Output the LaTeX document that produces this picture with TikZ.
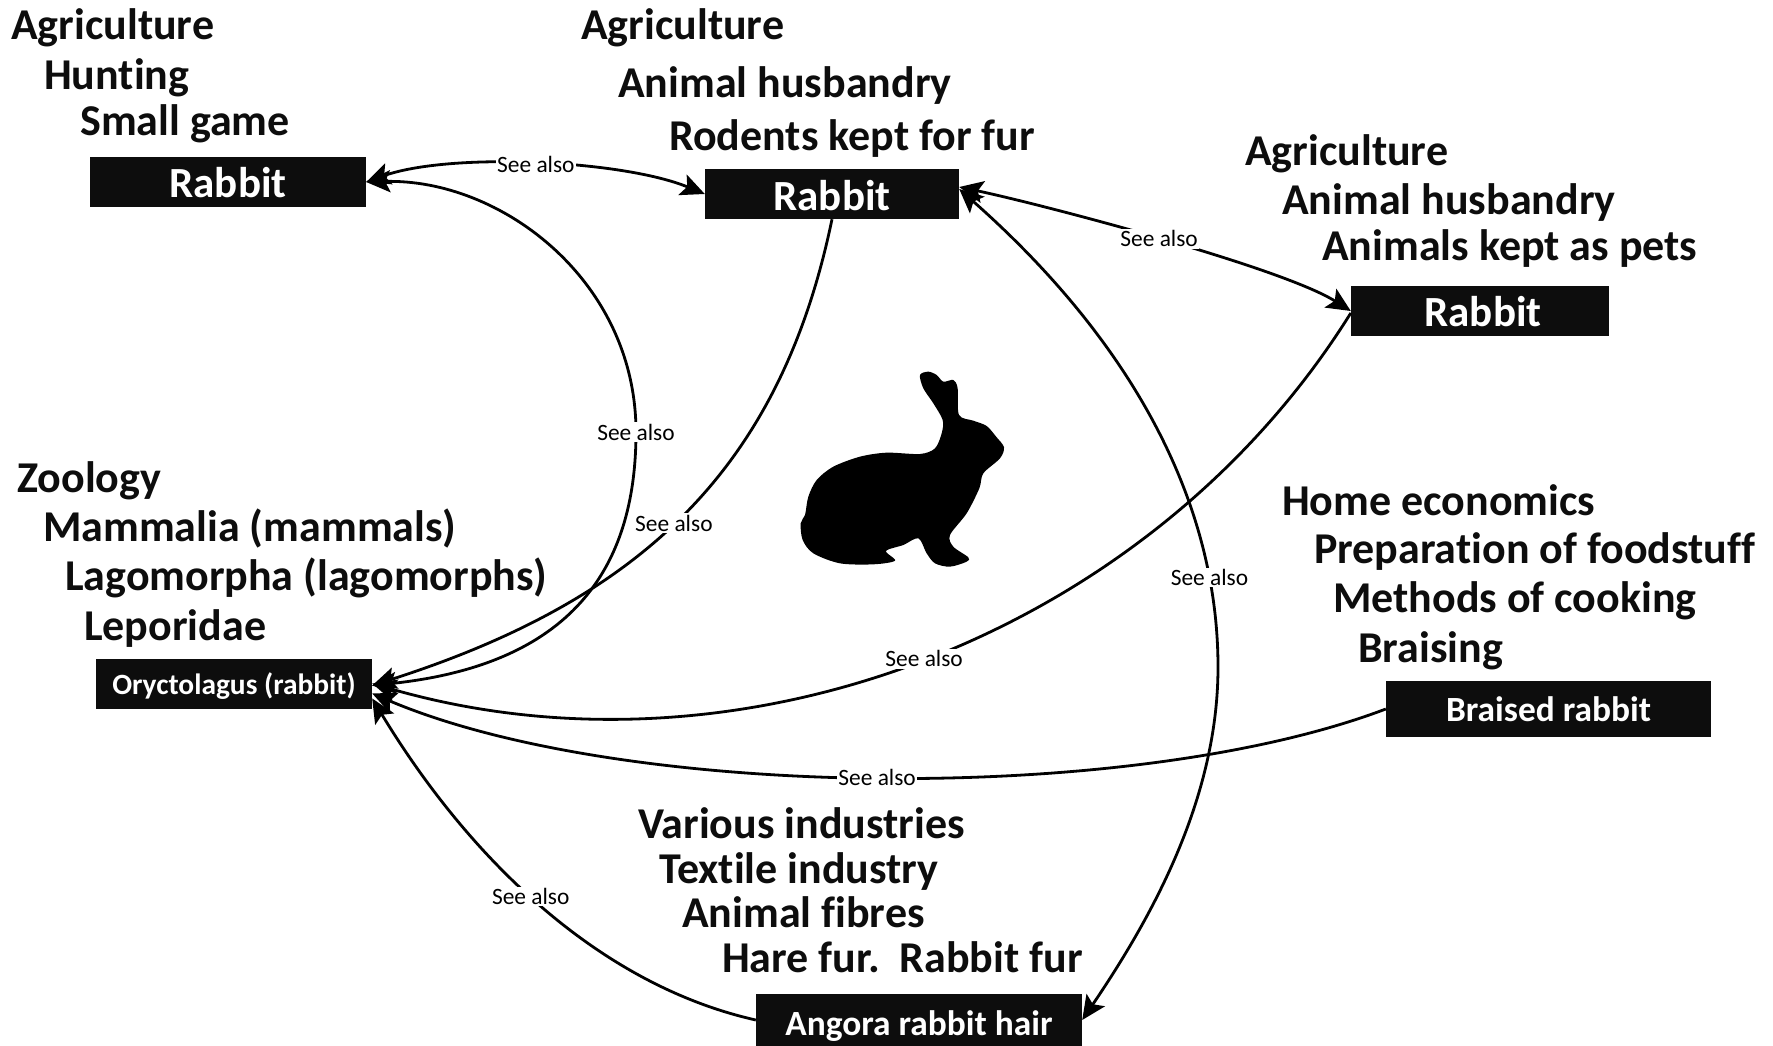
\documentclass[tikz,border=0pt]{standalone}
\usepackage{fontspec}
\setmainfont[Ligatures=CommonOff]{Carlito}
\usetikzlibrary{arrows.meta,calc}
\definecolor{boxblack}{HTML}{0D0D0D}
\tikzset{
  hd/.style={anchor=base west,inner sep=0pt,font=\fontsize{44}{44}\selectfont\bfseries,text=boxblack},
  rbox/.style={fill=boxblack,text=white,inner sep=0pt,text depth=0pt,text height=30pt,font=\fontsize{43}{43}\selectfont\bfseries},
  rboxs/.style={rbox,text height=25pt,font=\fontsize{35.4}{35.4}\selectfont\bfseries},
  link/.style={line width=2.8pt,black},
  tipe/.style={-{Stealth[length=24pt,width=22pt,inset=5pt]}},
  tipb/.style={{Stealth[length=24pt,width=22pt,inset=5pt]}-{Stealth[length=24pt,width=22pt,inset=5pt]}},
  lab/.style={fill=white,inner sep=1.5pt,font=\fontsize{23.4}{23.4}\selectfont,text=black}
}
\begin{document}
\begin{tikzpicture}[x=1pt,y=-1pt]
\useasboundingbox[fill=white] (0,0) rectangle (1773,1046);
% heading texts
\node[hd] (a1) at (11,40) {Agriculture};
\node[hd] (a2) at (44,90) {Hunting};
\node[hd] (a3) at (80,136) {Small game};
\node[hd] (b1) at (581,40) {Agriculture};
\node[hd] (b2) at (618,98) {Animal husbandry};
\node[hd] (b3) at (669,150) {Rodents kept for fur};
\node[hd] (c1) at (1245,166) {Agriculture};
\node[hd] (c2) at (1282,214) {Animal husbandry};
\node[hd] (c3) at (1322,260) {Animals kept as pets};
\node[hd] (d1) at (17,492) {Zoology};
\node[hd] (d2) at (43,541) {Mammalia (mammals)};
\node[hd] (d3) at (65,590) {Lagomorpha (lagomorphs)};
\node[hd] (d4) at (84,640) {Leporidae};
\node[hd] (e1) at (1282,515) {Home economics};
\node[hd] (e2) at (1314,563) {Preparation of foodstuff};
\node[hd] (e3) at (1333,612) {Methods of cooking};
\node[hd] (e4) at (1358,662) {Braising};
\node[hd] (f1) at (638,838) {Various industries};
\node[hd] (f2) at (659,883) {Textile industry};
\node[hd] (f3) at (682,927) {Animal fibres};
\node[hd] (f4) at (722,972) {Hare fur.\ \ Rabbit fur};
% boxes
\node[rbox,minimum width=276pt,minimum height=50pt] (r1) at (228,182) {Rabbit};
\node[rbox,text height=32pt,minimum width=254pt,minimum height=50pt] (r2) at (832,194) {Rabbit};
\node[rbox,minimum width=258pt,minimum height=50pt] (r3) at (1480,311) {\hspace{6pt}Rabbit};
\node[rboxs,text height=21.3pt,font=\fontsize{29.4}{29.4}\selectfont\bfseries,minimum width=276pt,minimum height=50pt] (o) at (234,683.5) {Oryctolagus (rabbit)};
\node[rboxs,minimum width=325pt,minimum height=56pt] (br) at (1548.5,709) {Braised rabbit};
\node[rboxs,text height=30.6pt,minimum width=326pt,minimum height=52pt] (an) at (919,1020) {Angora rabbit hair};
% connectors
\draw[link,tipb] (r1.east) .. controls (450,152) and (622,160) .. node[lab,pos=.5] (s1) {See also} (r2.west);
\draw[link,tipb] ([yshift=7pt]r2.east) .. controls (1040,204) and (1281,267) .. node[lab,pos=.5] (s2) {See also} (r3.west);
\draw[link,tipb] (r1.east) .. controls (500,178) and (636,280) .. (636,432) node[lab] (s3) {See also} .. controls (636,570) and (570,665) .. ([yshift=-2pt]o.east);
\draw[link,tipe] (r2.south) .. controls (780,470) and (640,600) .. node[lab,pos=.52] (s4) {See also} ([yshift=-2pt]o.east);
\draw[link,tipe] ([yshift=-2pt]r3.west) .. controls (1150,635) and (740,790) .. node[lab,pos=.5] (s5) {See also} (o.east);
\draw[link,tipe] (br.west) .. controls (1130,806) and (623,800) .. node[lab,pos=.5] (s6) {See also} ([yshift=-10pt]o.east);
\draw[link,tipe] (an.west) .. controls (600,985) and (470,860) .. node[lab,pos=.53] (s7) {See also} ([yshift=-15pt]o.east);
\draw[link,tipb] ([yshift=5pt]r2.east) .. controls (1130,340) and (1218,500) .. node[lab,pos=.82] (s8) {See also} (1218,667) .. controls (1218,800) and (1150,920) .. (an.east);
% silhouette
\begin{scope}[shift={(780,350)},scale=0.33333]
\fill[black] plot[smooth cycle,tension=.5] coordinates {(420,75)(445,65)(470,75)(490,95)(520,90)(533,115)(537,195)(580,212)(620,228)(650,262)(672,292)(660,325)(610,370)(598,415)(560,490)(510,555)(520,590)(565,622)(560,635)(510,650)(465,640)(440,610)(415,565)(370,585)(318,603)(345,632)(280,643)(180,640)(100,610)(68,570)(62,520)(75,495)(85,440)(110,390)(160,350)(240,320)(320,308)(420,312)(465,295)(485,250)(488,210)(460,160)(430,115)};
\end{scope}
\end{tikzpicture}
\end{document}
